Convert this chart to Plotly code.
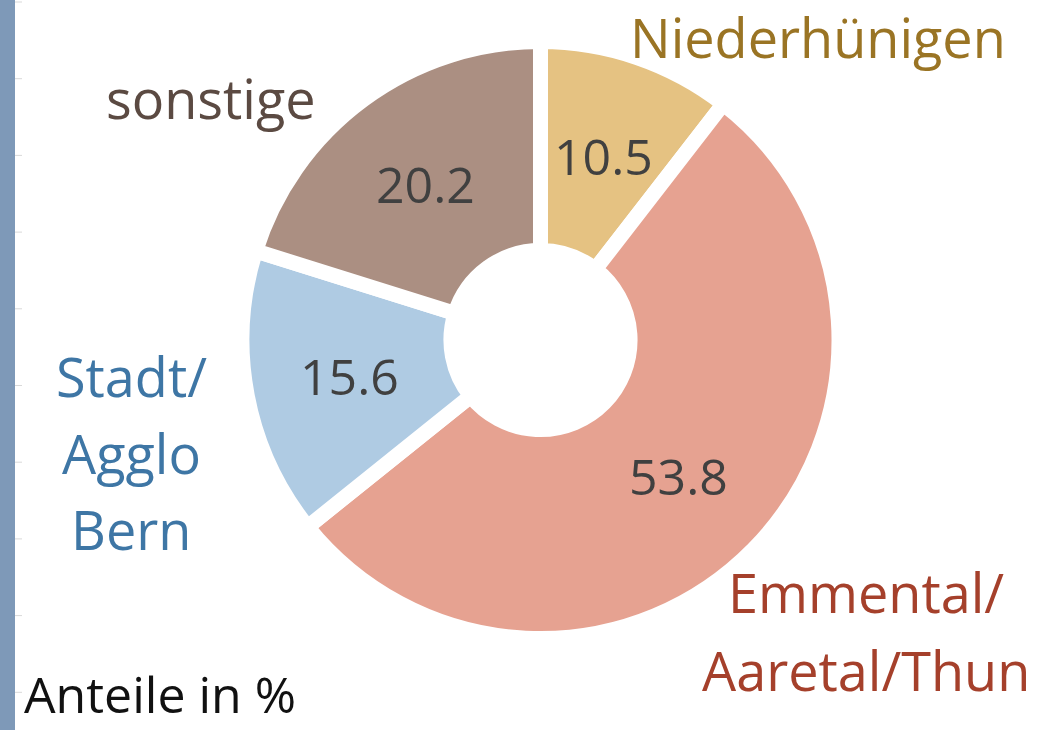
import math
import plotly.graph_objects as go

# ---- data ----
categories = ["Niederhünigen", "Emmental/<br>Aaretal/Thun", "Stadt/<br>Agglo<br>Bern", "sonstige"]
values = [10.5, 53.8, 15.6, 20.2]
slice_colors = ["#E5C282", "#E6A291", "#AFCBE3", "#AB8F82"]
label_colors = ["#9A7424", "#A5402B", "#3E76A5", "#5B4A42"]
note_text = "Anteile in %"

W, H = 1063, 730
FONT = "Open Sans"

def px(x):
    return x / W

def py(y):
    return 1 - y / H

# pie geometry (pixels)
cx, cy, R = 540.5, 340.0, 298.5
HOLE = 0.30
LINE_W = 15

fig = go.Figure()
fig.add_trace(go.Pie(
    labels=categories,
    values=values,
    sort=False,
    direction="clockwise",
    rotation=0,
    hole=HOLE,
    marker=dict(colors=slice_colors, line=dict(color="white", width=LINE_W)),
    textinfo="none",
    domain=dict(x=[px(cx - R), px(cx + R)], y=[py(cy + R), py(cy - R)]),
    showlegend=False,
    hoverinfo="label+value",
))

annotations = []

# value labels at the middle of each ring segment (derived from the data)
total = sum(values)
r_out = R - LINE_W / 2
r_in = R * HOLE + LINE_W / 2
r_mid = (r_out + r_in) / 2
cum = 0.0
for v in values:
    ang = math.radians((cum + v / 2) / total * 360)
    cum += v
    tx = cx + r_mid * math.sin(ang)
    ty = cy - r_mid * math.cos(ang)
    annotations.append(dict(
        text=f"{v:.1f}", x=px(tx), y=py(ty), xref="paper", yref="paper",
        xanchor="center", yanchor="middle", showarrow=False,
        font=dict(family=FONT, size=50, color="#404040"),
    ))

# outside category labels, one annotation per line
label_lines = [
    (["Niederhünigen"], 818, [37], 0),
    (["Emmental/", "Aaretal/Thun"], 866, [592, 670], 1),
    (["Stadt/", "Agglo", "Bern"], 131, [376, 453, 529], 2),
    (["sonstige"], 211, [98], 3),
]
for lines, x, ys, idx in label_lines:
    for t, y in zip(lines, ys):
        annotations.append(dict(
            text=t, x=px(x), y=py(y), xref="paper", yref="paper",
            xanchor="center", yanchor="middle", showarrow=False,
            font=dict(family=FONT, size=54, color=label_colors[idx]),
        ))

annotations.append(dict(
    text=note_text, x=px(22), y=0, xref="paper", yref="paper",
    xanchor="left", yanchor="bottom", showarrow=False,
    font=dict(family=FONT, size=50, color="#111111"),
))

# left decorative strip with tick marks
shapes = [dict(type="rect", xref="paper", yref="paper",
               x0=0, x1=px(15), y0=0, y1=1,
               fillcolor="#7E99B8", line=dict(width=0), layer="below")]
for k in range(10):
    ty = 2 + 76.7 * k
    shapes.append(dict(type="line", xref="paper", yref="paper",
                       x0=px(15), x1=px(22), y0=py(ty), y1=py(ty),
                       line=dict(color="#D9D9D9", width=1)))

fig.update_layout(
    width=W, height=H,
    margin=dict(l=0, r=0, t=0, b=0),
    paper_bgcolor="white",
    plot_bgcolor="white",
    annotations=annotations,
    shapes=shapes,
)

fig.write_html(
    "out.html",
    config={"displayModeBar": False},
    post_script="document.body.style.margin='0';document.body.style.overflow='hidden';",
)
